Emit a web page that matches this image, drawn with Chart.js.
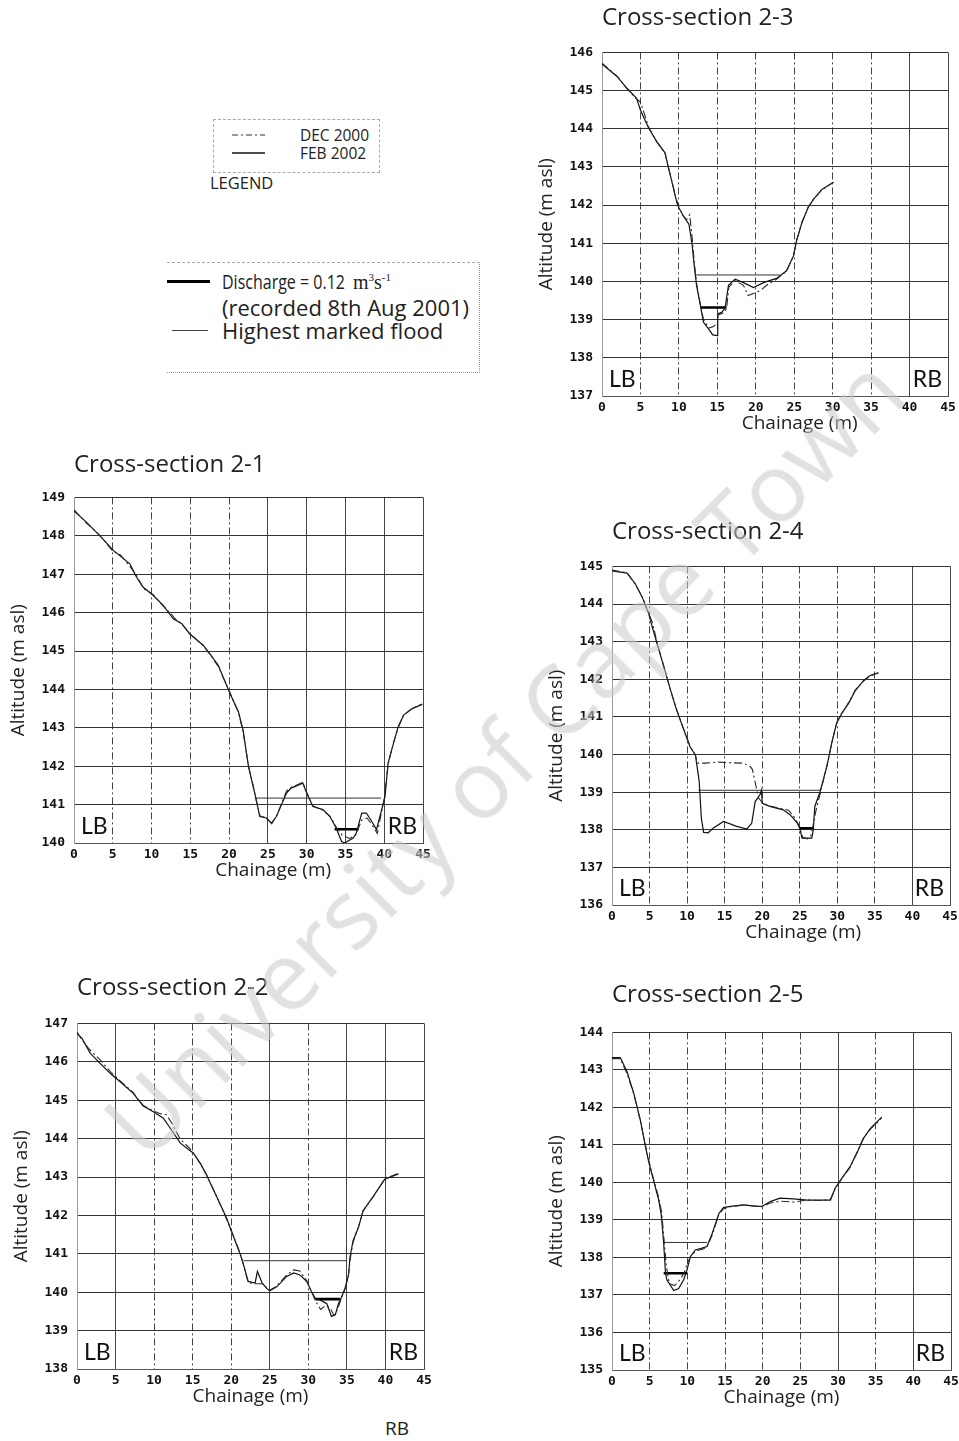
<!DOCTYPE html>
<html>
<head>
<meta charset="utf-8">
<script src="https://cdn.jsdelivr.net/npm/chart.js@4.4.1/dist/chart.umd.min.js"></script>
<style>
  body { margin: 0; background: #fff; width: 959px; height: 1441px; overflow: hidden; position: relative;
         font-family: 'Open Sans', sans-serif; color: #222; }
  canvas { position: absolute; }
  .abs { position: absolute; white-space: nowrap; }
  .wm { position: absolute; width: 1300px; height: 130px; line-height: 130px; text-align: center;
        font-family: 'Open Sans', sans-serif; font-size: 96px; color: rgba(200,200,200,0.55);
        transform: rotate(-45deg); pointer-events: none; z-index: 5; }
</style>
</head>
<body>

<!-- legends -->
<div class="abs" style="left:213px;top:119px;width:165px;height:52px;border:1px dashed #aaa;"></div>
<svg class="abs" style="left:228px;top:128px" width="42" height="32">
  <line x1="4" y1="7" x2="37" y2="7" stroke="#333" stroke-width="1" stroke-dasharray="6 3 2 3"/>
  <line x1="4" y1="25" x2="37" y2="25" stroke="#111" stroke-width="1.3"/>
</svg>
<div class="abs" style="left:300px;top:126px;font-size:15.5px;line-height:18px;">DEC 2000<br>FEB 2002</div>
<div class="abs" style="left:210px;top:173px;font-size:16.5px;line-height:20px;">LEGEND</div>

<div class="abs" style="left:167px;top:262px;width:312px;height:109px;border:1px dotted #999;border-left:none;border-top:1px dashed #aaa;"></div>
<div class="abs" style="left:167px;top:280px;width:43px;height:0;border-top:3px solid #000;"></div>
<div class="abs" style="left:172px;top:330px;width:36px;height:0;border-top:1px solid #444;"></div>
<div class="abs" style="left:222px;top:269px;font-size:20px;line-height:26px;transform:scaleX(0.8);transform-origin:0 50%;">Discharge = 0.12</div>
<div class="abs" style="left:353px;top:270px;font-family:'Liberation Serif',serif;font-size:20px;line-height:24px;">m<sup style="font-size:11px;line-height:0">3</sup>s<sup style="font-size:11px;line-height:0">-1</sup></div>
<div class="abs" style="left:222px;top:294px;font-size:22px;line-height:26px;">(recorded 8th Aug 2001)</div>
<div class="abs" style="left:222px;top:317px;font-size:22px;line-height:26px;">Highest marked flood</div>

<div class="abs" style="left:385px;top:1416px;font-size:19px;line-height:24px;">RB</div>

<canvas id="cs23"></canvas>
<canvas id="cs21"></canvas>
<canvas id="cs24"></canvas>
<canvas id="cs22"></canvas>
<canvas id="cs25"></canvas>

<div class="wm" style="left:-148px;top:690px;">University of Cape Town</div>

<script>
// ---- Cross-section 2-3 ----
var cs23FebX = [0, 1.95, 3.25, 4.5, 4.98, 6.06, 7.1, 8.2, 8.5, 9.1, 9.74, 10.0, 10.6, 11.3, 11.7, 12.0, 12.3, 12.8, 13.2, 13.85, 14.4, 15.0, 15.05, 15.6, 16.0, 16.45, 17.3, 18.4, 19.7, 21.0, 22.7, 24.0, 24.9, 25.3, 26.0, 26.8, 27.5, 28.6, 30.1];
var cs23FebY = [145.70, 145.37, 145.06, 144.8, 144.5, 144.02, 143.67, 143.37, 143.1, 142.6, 142.06, 141.93, 141.71, 141.5, 141.0, 140.4, 139.9, 139.37, 138.93, 138.76, 138.6, 138.58, 139.15, 139.2, 139.3, 139.9, 140.06, 139.97, 139.84, 139.97, 140.08, 140.28, 140.67, 141.06, 141.54, 141.93, 142.15, 142.41, 142.6];
var cs23DecX = [0, 1.95, 3.25, 4.5, 5.0, 6.06, 7.1, 8.2, 8.5, 9.1, 9.6, 10.0, 10.5, 11.0, 11.4, 11.7, 12.0, 12.3, 12.8, 13.2, 13.9, 14.5, 15.0, 15.1, 15.8, 16.2, 16.5, 17.3, 18.4, 19.0, 20.6, 21.6, 22.7, 24.0, 24.9, 25.3, 26.0, 26.8, 27.5, 28.6, 30.1];
var cs23DecY = [145.72, 145.38, 145.05, 144.78, 144.7, 144.05, 143.66, 143.35, 143.1, 142.62, 142.2, 141.95, 141.73, 141.62, 141.75, 141.2, 140.5, 139.95, 139.4, 139.0, 138.78, 138.82, 138.92, 139.12, 139.18, 139.28, 139.85, 140.02, 139.9, 139.63, 139.76, 139.93, 140.06, 140.27, 140.66, 141.07, 141.55, 141.95, 142.15, 142.4, 142.6];
var cs23FloodX = [12.2, 23.15], cs23FloodLevel = 140.17;
var cs23DischargeX = [12.85, 16.2], cs23DischargeLevel = 139.32;

// ---- Cross-section 2-1 ----
var cs21FebX = [0, 1.63, 3.35, 5.07, 7.2, 8.07, 8.93, 10.2, 11.5, 12.8, 13.9, 14.9, 16.66, 17.5, 18.6, 20.1, 21.2, 21.8, 22.5, 23.1, 23.5, 23.95, 24.8, 25.45, 26.1, 27.4, 28.0, 29.5, 30.0, 30.8, 32.1, 33.0, 33.8, 34.5, 34.9, 36.0, 36.4, 37.1, 37.7, 38.4, 39.0, 40.1, 40.5, 41.2, 41.8, 42.5, 43.6, 44.9];
var cs21FebY = [148.65, 148.35, 148.0, 147.62, 147.27, 146.92, 146.66, 146.45, 146.19, 145.84, 145.71, 145.45, 145.15, 144.93, 144.63, 143.9, 143.42, 142.94, 141.99, 141.47, 141.13, 140.69, 140.65, 140.52, 140.69, 141.3, 141.43, 141.56, 141.3, 140.95, 140.87, 140.69, 140.39, 140.04, 140.0, 140.13, 140.26, 140.78, 140.78, 140.56, 140.35, 141.21, 142.08, 142.6, 143.03, 143.33, 143.5, 143.61];
var cs21DecX = [0, 1.6, 3.3, 5.0, 6.0, 7.4, 8.1, 9.0, 10.2, 11.5, 12.6, 13.0, 13.9, 14.9, 16.66, 17.5, 18.6, 20.1, 21.2, 21.8, 22.5, 23.1, 23.5, 24.0, 24.8, 25.5, 26.1, 27.4, 28.0, 29.5, 30.0, 30.8, 32.1, 33.0, 33.8, 34.6, 35.5, 36.3, 37.1, 37.8, 38.6, 39.1, 40.0, 40.5, 41.2, 41.8, 42.5, 43.6, 44.9];
var cs21DecY = [148.68, 148.33, 148.02, 147.6, 147.5, 147.15, 146.95, 146.62, 146.47, 146.17, 145.95, 145.85, 145.7, 145.46, 145.14, 144.92, 144.6, 143.92, 143.4, 142.9, 142.0, 141.5, 141.1, 140.7, 140.66, 140.5, 140.7, 141.35, 141.45, 141.58, 141.32, 140.97, 140.85, 140.7, 140.42, 140.2, 140.12, 140.2, 140.6, 140.65, 140.42, 140.25, 141.15, 142.05, 142.62, 143.0, 143.33, 143.5, 143.62];
var cs21FloodX = [23.3, 39.6], cs21FloodLevel = 141.17;
var cs21DischargeX = [33.6, 36.7], cs21DischargeLevel = 140.36;

// ---- Cross-section 2-4 ----
var cs24FebX = [0, 2.0, 3.1, 4.0, 4.9, 5.3, 6.0, 6.9, 7.8, 8.6, 9.75, 10.4, 11.1, 11.6, 11.9, 12.2, 12.8, 13.5, 14.85, 16.6, 17.95, 18.6, 19.06, 19.7, 19.9, 20.0, 21.0, 22.8, 23.7, 24.6, 25.0, 25.3, 26.6, 26.8, 27.0, 27.7, 28.6, 29.25, 29.9, 30.6, 31.5, 32.4, 33.5, 34.35, 35.46];
var cs24FebY = [144.88, 144.82, 144.54, 144.19, 143.74, 143.43, 142.95, 142.33, 141.71, 141.18, 140.56, 140.2, 139.99, 139.3, 138.3, 137.93, 137.92, 138.05, 138.22, 138.09, 138.02, 138.17, 138.75, 138.93, 139.05, 138.7, 138.62, 138.53, 138.4, 138.2, 138.04, 137.78, 137.78, 138.0, 138.62, 139.01, 139.68, 140.3, 140.83, 141.1, 141.36, 141.7, 141.97, 142.1, 142.17];
var cs24DecX = [0, 2.0, 3.1, 4.0, 4.9, 5.4, 6.0, 6.9, 7.8, 8.6, 9.75, 10.4, 11.1, 11.4, 12.5, 14.0, 16.0, 17.5, 18.4, 18.7, 19.5, 20.0, 21.0, 22.8, 23.5, 24.2, 24.8, 25.4, 26.0, 26.5, 27.2, 27.7, 28.6, 29.25, 29.9, 30.6, 31.5, 32.4, 33.5, 34.35, 35.46];
var cs24DecY = [144.9, 144.83, 144.52, 144.2, 143.75, 143.5, 142.97, 142.35, 141.7, 141.2, 140.55, 140.22, 139.98, 139.77, 139.77, 139.8, 139.78, 139.77, 139.68, 139.6, 138.85, 138.72, 138.63, 138.55, 138.52, 138.35, 138.15, 137.8, 137.76, 137.85, 138.55, 138.95, 139.7, 140.3, 140.85, 141.08, 141.38, 141.72, 141.95, 142.08, 142.17];
var cs24FloodX = [11.5, 27.7], cs24FloodLevel = 139.05;
var cs24DischargeX = [24.95, 26.9], cs24DischargeLevel = 138.04;

// ---- Cross-section 2-2 ----
var cs22FebX = [0, 0.65, 1.73, 3.0, 4.3, 5.6, 7.3, 7.8, 8.6, 9.9, 11.2, 12.1, 13.4, 15.1, 15.98, 16.8, 18.1, 19.4, 20.3, 21.2, 21.6, 22.2, 23.1, 23.4, 24.0, 24.6, 25.0, 25.9, 27.2, 28.1, 28.9, 29.8, 30.4, 30.9, 31.5, 32.4, 33.0, 33.5, 33.9, 34.3, 34.8, 35.2, 35.4, 35.8, 36.5, 37.1, 38.4, 39.9, 41.7];
var cs22FebY = [146.74, 146.61, 146.22, 145.96, 145.7, 145.48, 145.18, 145.05, 144.85, 144.7, 144.53, 144.27, 143.88, 143.62, 143.36, 143.05, 142.49, 141.93, 141.45, 140.97, 140.71, 140.28, 140.24, 140.54, 140.24, 140.1, 140.04, 140.14, 140.41, 140.5, 140.45, 140.28, 140.02, 139.84, 139.8, 139.7, 139.37, 139.41, 139.7, 139.87, 140.13, 140.43, 140.91, 141.34, 141.69, 142.12, 142.49, 142.94, 143.08];
var cs22DecX = [0, 0.7, 1.5, 3.0, 4.3, 5.6, 7.3, 7.8, 8.6, 9.9, 10.8, 11.6, 12.3, 13.4, 14.6, 15.1, 15.98, 16.8, 18.1, 19.4, 20.3, 21.2, 21.6, 22.2, 23.1, 24.0, 24.6, 25.0, 25.9, 27.2, 28.1, 28.9, 29.8, 30.4, 30.9, 31.6, 32.2, 32.8, 33.3, 33.8, 34.3, 34.8, 35.2, 35.5, 35.8, 36.5, 37.1, 38.4, 39.9, 41.7];
var cs22DecY = [146.78, 146.55, 146.35, 146.05, 145.75, 145.5, 145.2, 145.06, 144.86, 144.72, 144.65, 144.62, 144.4, 143.98, 143.75, 143.62, 143.35, 143.06, 142.5, 141.9, 141.45, 141.0, 140.7, 140.25, 140.22, 140.22, 140.12, 140.05, 140.16, 140.45, 140.58, 140.55, 140.3, 140.02, 139.78, 139.55, 139.65, 139.6, 139.4, 139.55, 139.85, 140.1, 140.45, 140.95, 141.3, 141.7, 142.12, 142.48, 142.95, 143.1];
var cs22FloodX = [21.6, 35.0], cs22FloodLevel = 140.82;
var cs22DischargeX = [30.9, 34.1], cs22DischargeLevel = 139.82;

// ---- Cross-section 2-5 ----
var cs25FebX = [0, 1.1, 2.0, 2.9, 3.76, 4.4, 4.87, 5.5, 6.2, 6.5, 6.6, 6.86, 7.1, 7.3, 8.2, 8.85, 9.5, 9.96, 10.4, 11.06, 11.95, 12.6, 13.3, 14.2, 14.8, 15.7, 17.5, 18.8, 19.9, 21.0, 22.3, 24.1, 25.9, 27.65, 29.0, 29.6, 30.5, 31.6, 32.5, 33.4, 34.3, 35.0, 35.8];
var cs25FebY = [143.33, 143.33, 142.95, 142.37, 141.66, 141.0, 140.55, 140.07, 139.53, 139.18, 139.0, 138.38, 137.58, 137.4, 137.12, 137.17, 137.4, 137.67, 138.02, 138.2, 138.25, 138.29, 138.64, 139.18, 139.33, 139.36, 139.4, 139.37, 139.36, 139.49, 139.58, 139.56, 139.53, 139.53, 139.53, 139.84, 140.11, 140.42, 140.78, 141.18, 141.44, 141.58, 141.74];
var cs25DecX = [0, 1.1, 2.0, 2.9, 3.76, 4.4, 4.87, 5.5, 6.2, 6.6, 6.9, 7.2, 7.6, 8.3, 9.0, 9.6, 10.0, 10.5, 11.2, 12.0, 12.6, 13.3, 14.2, 14.8, 15.7, 17.5, 18.8, 19.9, 21.0, 22.3, 24.1, 25.9, 27.65, 29.0, 29.6, 30.5, 31.6, 32.5, 33.4, 34.3, 35.0, 35.8];
var cs25DecY = [143.3, 143.3, 142.9, 142.35, 141.65, 141.02, 140.6, 140.1, 139.6, 139.2, 138.5, 137.8, 137.3, 137.25, 137.4, 137.6, 137.85, 138.05, 138.18, 138.22, 138.27, 138.6, 139.15, 139.3, 139.35, 139.4, 139.38, 139.35, 139.45, 139.5, 139.48, 139.53, 139.52, 139.55, 139.82, 140.1, 140.4, 140.8, 141.2, 141.42, 141.55, 141.72];
var cs25FloodX = [6.86, 12.6], cs25FloodLevel = 138.40;
var cs25DischargeX = [6.86, 9.96], cs25DischargeLevel = 137.58;

var chainageMin = 0, chainageMax = 45, chainageStep = 5;

function pts(xs, ys) {
    return xs.map(function (x, i) { return { x: x, y: ys[i] }; });
}
function level(xs, lvl) {
    return [{ x: xs[0], y: lvl }, { x: xs[1], y: lvl }];
}

// LB / RB labels in the bottom corners of each plot
var bankLabels = {
    id: 'bankLabels',
    afterDraw: function (chart) {
        var ctx = chart.ctx, a = chart.chartArea;
        ctx.save();
        ctx.font = '23px Lato';
        ctx.fillStyle = '#111';
        ctx.textBaseline = 'alphabetic';
        ctx.textAlign = 'left';
        ctx.fillText('LB', a.left + 7, a.bottom - 9);
        ctx.textAlign = 'right';
        ctx.fillText('RB', a.right - 6, a.bottom - 9);
        ctx.restore();
    }
};

var tickFont = { family: 'DejaVu Sans Mono', size: 13, weight: 'bold' };
var yAxisW = 72, xAxisH = 42, padRight = 14;

function crossSection(id, title, box, yMin, yMax, solidX, febX, febY, decX, decY, floodX, floodLvl, dischX, dischLvl) {
    // box = [left, top, right, bottom, title gap, x-title shift (spaces)]
    var titleH = box[4] + 18.4;
    var cv = document.getElementById(id);
    cv.width = (box[2] - box[0]) + yAxisW + padRight;
    cv.height = Math.round(titleH + (box[3] - box[1]) + xAxisH);
    cv.style.left = (box[0] - yAxisW) + 'px';
    cv.style.top = (box[1] - titleH) + 'px';

    return new Chart(cv, {
        type: 'scatter',
        data: {
            datasets: [
                { label: 'DEC 2000', data: pts(decX, decY), borderColor: '#2a2a2a', borderWidth: 1.1, borderDash: [8, 3, 2, 3] },
                { label: 'FEB 2002', data: pts(febX, febY), borderColor: '#111', borderWidth: 1.2 },
                { label: 'Highest marked flood', data: level(floodX, floodLvl), borderColor: '#333', borderWidth: 1 },
                { label: 'Discharge', data: level(dischX, dischLvl), borderColor: '#000', borderWidth: 2.6 }
            ]
        },
        options: {
            responsive: false,
            animation: false,
            showLine: true,
            elements: { point: { radius: 0 }, line: { tension: 0 } },
            layout: { padding: { right: padRight, left: 0, top: 0, bottom: 0 } },
            plugins: {
                legend: { display: false },
                tooltip: { enabled: false },
                title: {
                    display: true, text: title, align: 'start', fullSize: false,
                    font: { family: 'Open Sans', size: 24, weight: 'normal' }, color: '#222',
                    padding: { top: 4, bottom: box[4] - 14.4 }
                }
            },
            scales: {
                x: {
                    type: 'linear', min: chainageMin, max: chainageMax,
                    ticks: { stepSize: chainageStep, padding: 4, font: tickFont, color: '#111', maxRotation: 0 },
                    grid: {
                        drawTicks: false, lineWidth: 1,
                        color: function (c) { return c.tick && c.tick.value === 0 ? '#999' : '#444'; }
                    },
                    border: {
                        color: '#555',
                        dash: function (c) { return c.tick && solidX.indexOf(c.tick.value) < 0 ? [7, 3, 2, 3] : []; }
                    },
                    title: { display: true, text: ' '.repeat(box[5]) + 'Chainage (m)', font: { family: 'Open Sans', size: 19 }, color: '#222', padding: { top: 0, bottom: 3 } },
                    afterFit: function (s) { s.height = xAxisH; }
                },
                y: {
                    type: 'linear', min: yMin, max: yMax,
                    ticks: { stepSize: 1, padding: 9, font: tickFont, color: '#111' },
                    grid: { drawTicks: false, color: '#333', lineWidth: 1 },
                    border: { color: '#999' },
                    title: { display: true, text: 'Altitude (m asl)', font: { family: 'Open Sans', size: 19 }, color: '#222', padding: { top: 5, bottom: 0 } },
                    afterFit: function (s) { s.width = yAxisW; }
                }
            }
        },
        plugins: [bankLabels]
    });
}

crossSection('cs23', 'Cross-section 2-3', [602, 52, 948, 396, 34, 10], 137, 146, [40, 45],
    cs23FebX, cs23FebY, cs23DecX, cs23DecY, cs23FloodX, cs23FloodLevel, cs23DischargeX, cs23DischargeLevel);
crossSection('cs21', 'Cross-section 2-1', [74, 497, 423, 843, 32, 10], 140, 149, [25, 30, 35, 40, 45],
    cs21FebX, cs21FebY, cs21DecX, cs21DecY, cs21FloodX, cs21FloodLevel, cs21DischargeX, cs21DischargeLevel);
crossSection('cs24', 'Cross-section 2-4', [612, 566, 950, 905, 34, 9], 136, 145, [40, 45],
    cs24FebX, cs24FebY, cs24DecX, cs24DecY, cs24FloodX, cs24FloodLevel, cs24DischargeX, cs24DischargeLevel);
crossSection('cs22', 'Cross-section 2-2', [77, 1023, 424, 1369, 35, 0], 138, 147, [5, 25, 35, 40, 45],
    cs22FebX, cs22FebY, cs22DecX, cs22DecY, cs22FloodX, cs22FloodLevel, cs22DischargeX, cs22DischargeLevel);
crossSection('cs25', 'Cross-section 2-5', [612, 1032, 951, 1370, 37, 0], 135, 144, [30, 40, 45],
    cs25FebX, cs25FebY, cs25DecX, cs25DecY, cs25FloodX, cs25FloodLevel, cs25DischargeX, cs25DischargeLevel);
</script>
</body>
</html>
